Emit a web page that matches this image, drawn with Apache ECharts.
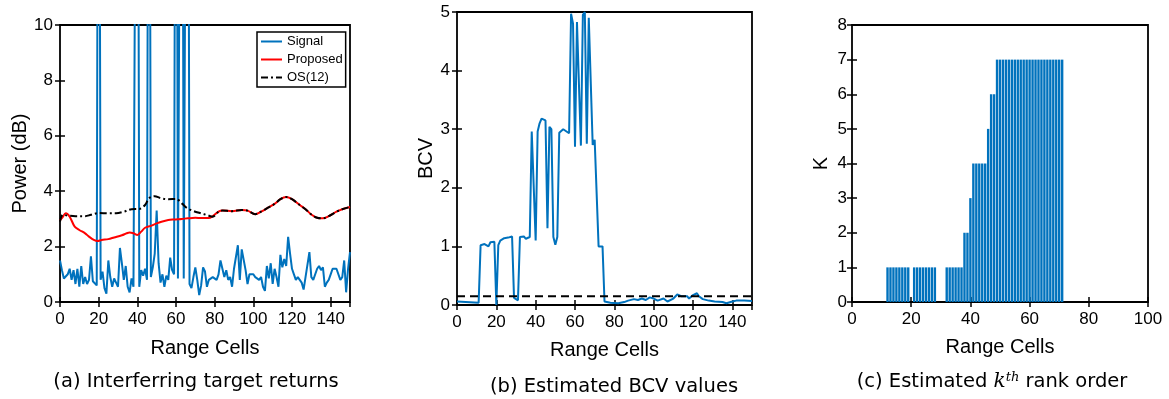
<!DOCTYPE html>
<html>
<head>
<meta charset="utf-8">
<script src="https://cdn.jsdelivr.net/npm/echarts@6/dist/echarts.min.js"></script>
<style>
  html, body {margin: 0; padding: 0; background: #fff;}
  #main {width: 1169px; height: 399px;}
</style>
</head>
<body>
<div id="main"></div>
<script>
// (a) received signal, one sample per range cell 0..150 (target spikes run off the top)
const signal = [
  1.5, 1.15, 0.85, 0.9, 1.0, 1.2, 0.8, 1.15, 0.65, 1.2,
  0.55, 1.3, 0.65, 0.9, 0.65, 0.8, 1.65, 0.75, 0.8, 0.6,
  30, 0.8, 1.1, 0.5, 0.3, 1.5, 0.9, 0.55, 0.85, 0.7,
  0.55, 1.95, 1.4, 0.8, 1.3, 0.55, 0.35, 0.85, 0.55, 0.5,
  30, 0.55, 1.15, 0.95, 1.2, 0.8, 30, 0.9, 1.25, 1.75,
  3.3, 1.4, 0.7, 1.0, 0.55, 0.95, 0.8, 1.6, 1.15, 1.0,
  30, 0.85, 0.8, 30, 0.85, 0.9, 30, 0.65, 0.5, 0.9,
  1.25, 0.8, 0.25, 0.6, 1.25, 1.1, 0.55, 0.8, 0.75, 0.9,
  0.9, 0.8, 1.0, 1.5, 1.5, 0.9, 1.15, 0.8, 0.9, 0.55,
  1.2, 1.15, 2.05, 0.8, 1.9, 1.85, 1.15, 0.65, 1.0, 1.0,
  1.0, 0.9, 0.9, 0.8, 0.9, 0.55, 0.4, 1.3, 0.85, 1.4,
  0.65, 1.2, 0.9, 0.55, 1.7, 1.25, 1.55, 1.3, 2.35, 1.75,
  1.2, 1.0, 0.8, 0.9, 0.8, 0.7, 0.45, 0.9, 0.85, 1.8,
  0.9, 0.8, 0.85, 1.2, 1.3, 1.15, 1.25, 0.55, 0.7, 0.8,
  1.0, 1.2, 1.15, 1.2, 1.2, 0.8, 0.9, 1.5, 0.35, 1.2, 1.8
];

// (a) proposed threshold
const proposedX = [0, 1.2, 3, 5, 7.6, 10, 13, 15, 17.5, 19.5, 21.5, 25, 28, 32, 34.5, 36, 38, 40, 42, 44,
  47, 50, 52.5, 56, 59, 63, 66, 70, 73, 77, 79, 82, 84, 89, 94, 97, 101, 104, 107, 111,
  114, 117, 120, 124, 127, 130, 133, 136, 139, 143, 146, 150];
const proposedY = [2.95, 3.05, 3.2, 3.08, 2.72, 2.6, 2.48, 2.36, 2.24, 2.2, 2.24, 2.27, 2.33, 2.41, 2.48, 2.51, 2.48, 2.42, 2.54, 2.68,
  2.75, 2.84, 2.9, 2.96, 2.98, 3.0, 3.02, 3.04, 3.03, 3.03, 3.1, 3.26, 3.3, 3.28, 3.32, 3.3, 3.17, 3.26, 3.38, 3.54,
  3.71, 3.79, 3.71, 3.5, 3.35, 3.16, 3.04, 3.02, 3.1, 3.26, 3.35, 3.43];

// (a) OS(12) threshold
const osX = [0, 1.5, 4, 8, 13, 16, 20, 25, 29, 33, 37, 41, 44, 46, 49, 52, 56, 60, 63, 66,
  70, 73, 76, 79, 82, 84, 89, 94, 97, 101, 104, 107, 111, 114, 117, 120, 124, 127, 130, 133,
  136, 139, 143, 146, 150];
const osY = [2.9, 3.15, 3.12, 3.1, 3.1, 3.15, 3.21, 3.2, 3.2, 3.26, 3.35, 3.36, 3.5, 3.74, 3.82, 3.75, 3.71, 3.72, 3.56, 3.38,
  3.26, 3.2, 3.14, 3.08, 3.26, 3.3, 3.28, 3.32, 3.3, 3.17, 3.26, 3.38, 3.54, 3.71, 3.79, 3.71, 3.5, 3.35, 3.16, 3.04,
  3.02, 3.1, 3.26, 3.35, 3.43];

// (b) BCV per range cell
const bcvX = [0, 11, 12, 14, 16, 17, 19, 20, 21, 22, 24, 26, 28, 29, 30, 31, 32, 34, 35, 37,
  38, 39, 40, 41, 42, 43, 44, 45, 46, 47, 48, 49, 50, 51, 52, 54, 55, 57, 58, 59,
  60, 61, 62, 63, 64, 65, 66, 67, 68, 69, 70, 71, 72, 74, 75, 78, 82, 85, 87, 90,
  92, 94, 96, 98, 100, 102, 105, 107, 110, 112, 114, 117, 118, 120, 122, 123, 125, 128, 131, 135,
  137, 140, 142, 146, 150];
const bcvY = [0.06, 0.04, 1.02, 1.04, 1.0, 1.07, 1.08, 0.0, 1.02, 1.1, 1.14, 1.15, 1.17, 0.12, 0.1, 0.08, 1.16, 1.17, 1.13, 1.16,
  2.96, 2.94, 1.1, 2.96, 3.1, 3.18, 3.2, 3.15, 1.31, 3.04, 3.0, 1.16, 1.03, 1.16, 2.94, 3.0, 2.97, 2.93, 4.97, 4.8,
  2.7, 4.83, 4.8, 2.72, 4.95, 5.0, 2.75, 4.9, 4.9, 2.73, 2.82, 2.82, 1.0, 1.0, 0.06, 0.04, 0.03, 0.05, 0.075, 0.1,
  0.085, 0.11, 0.085, 0.13, 0.11, 0.075, 0.11, 0.06, 0.11, 0.18, 0.15, 0.15, 0.11, 0.17, 0.2, 0.15, 0.1, 0.075, 0.06, 0.05,
  0.03, 0.06, 0.075, 0.075, 0.07];
const bcvThreshold = 0.15;

// (c) estimated k-th rank per range cell
const kCells = [12, 13, 14, 15, 16, 17, 18, 19, 21, 22, 23, 24, 25, 26, 27, 28,
  32, 33, 34, 35, 36, 37, 38, 39, 40, 41, 42, 43, 44, 45, 46, 47, 48,
  49, 50, 51, 52, 53, 54, 55, 56, 57, 58, 59, 60, 61, 62, 63, 64, 65, 66, 67, 68, 69, 70, 71];
const kValues = [1, 1, 1, 1, 1, 1, 1, 1, 1, 1, 1, 1, 1, 1, 1, 1,
  1, 1, 1, 1, 1, 1, 2, 2, 3, 4, 4, 4, 4, 4, 5, 6, 6,
  7, 7, 7, 7, 7, 7, 7, 7, 7, 7, 7, 7, 7, 7, 7, 7, 7, 7, 7, 7, 7, 7, 7];

const FONT = 'Liberation Sans, Arial, Helvetica, sans-serif';
const CAP_FONT = 'DejaVu Sans, sans-serif';
const BLUE = '#0072BD';

const zip = (xs, ys) => xs.map((x, i) => [x, ys[i]]);

// bottom/left axis carries labels, top/right only mirrors the inside ticks
function xAxes(grid, min, max, step, name, gap) {
  const base = {
    type: 'value', gridIndex: grid, min: min, max: max, interval: step,
    axisLine: {show: false}, splitLine: {show: false},
    axisTick: {inside: true, length: 5, lineStyle: {color: '#000', width: 1.5}}
  };
  return [
    Object.assign({}, base, {
      position: 'bottom', name: name, nameLocation: 'middle', nameGap: gap,
      nameTextStyle: {fontSize: 20, color: '#000', fontFamily: FONT},
      axisLabel: {margin: 9, fontSize: 17, color: '#000', fontFamily: FONT, showMaxLabel: max % step === 0}
    }),
    Object.assign({}, base, {position: 'top', axisLabel: {show: false}})
  ];
}

function yAxes(grid, min, max, step, name, gap, margin) {
  const base = {
    type: 'value', gridIndex: grid, min: min, max: max, interval: step,
    axisLine: {show: false}, splitLine: {show: false},
    axisTick: {inside: true, length: 5, lineStyle: {color: '#000', width: 1.5}}
  };
  return [
    Object.assign({}, base, {
      position: 'left', name: name, nameLocation: 'middle', nameGap: gap, nameRotate: 90,
      nameTextStyle: {fontSize: 20, color: '#000', fontFamily: FONT},
      axisLabel: {margin: margin, fontSize: 17, color: '#000', fontFamily: FONT}
    }),
    Object.assign({}, base, {position: 'right', axisLabel: {show: false}})
  ];
}

const gridBox = {show: true, borderColor: '#000', borderWidth: 1.8, backgroundColor: 'transparent', outerBoundsMode: 'none'};

const chart = echarts.init(document.getElementById('main'), null, {renderer: 'canvas'});
chart.setOption({
  backgroundColor: '#fff',
  animation: false,
  grid: [
    Object.assign({left: 60, top: 25, width: 290, height: 277}, gridBox),
    Object.assign({left: 457, top: 12, width: 295, height: 293}, gridBox),
    Object.assign({left: 852, top: 25, width: 296, height: 277}, gridBox)
  ],
  xAxis: [
    ...xAxes(0, 0, 150, 20, 'Range Cells', 36),
    ...xAxes(1, 0, 150, 20, 'Range Cells', 35),
    ...xAxes(2, 0, 100, 20, 'Range Cells', 35)
  ],
  yAxis: [
    ...yAxes(0, 0, 10, 2, 'Power (dB)', 29, 7),
    ...yAxes(1, 0, 5, 1, 'BCV', 21, 7),
    ...yAxes(2, 0, 8, 1, 'K', 21, 5)
  ],
  legend: {
    left: 257, top: 32, orient: 'vertical',
    data: ['Signal', 'Proposed', 'OS(12)'],
    backgroundColor: '#fff', borderColor: '#000', borderWidth: 1.5,
    padding: [3, 3, 3, 3], itemGap: 5, itemWidth: 21, itemHeight: 13,
    itemStyle: {opacity: 0},
    textStyle: {fontSize: 13, color: '#000', fontFamily: FONT}
  },
  series: [
    {
      name: 'Signal', type: 'line', xAxisIndex: 0, yAxisIndex: 0,
      data: signal.map((v, i) => [i, v]),
      showSymbol: false, symbol: 'none', clip: true,
      lineStyle: {color: BLUE, width: 2}, itemStyle: {color: BLUE}
    },
    {
      name: 'Proposed', type: 'line', xAxisIndex: 0, yAxisIndex: 0,
      data: zip(proposedX, proposedY), smooth: 0.35,
      showSymbol: false, symbol: 'none',
      lineStyle: {color: '#ff0000', width: 2}, itemStyle: {color: '#ff0000'}
    },
    {
      name: 'OS(12)', type: 'line', xAxisIndex: 0, yAxisIndex: 0,
      data: zip(osX, osY), smooth: 0.35,
      showSymbol: false, symbol: 'none',
      lineStyle: {color: '#000', width: 2, type: [7, 3, 2, 3]}, itemStyle: {color: '#000'}
    },
    {
      type: 'line', xAxisIndex: 2, yAxisIndex: 2,
      data: zip(bcvX, bcvY), showSymbol: false, symbol: 'none', clip: true,
      lineStyle: {color: BLUE, width: 2}
    },
    {
      type: 'line', xAxisIndex: 2, yAxisIndex: 2,
      data: [[0, bcvThreshold], [150, bcvThreshold]], showSymbol: false, symbol: 'none',
      lineStyle: {color: '#000', width: 2, type: [8, 5]}
    },
    {
      type: 'bar', xAxisIndex: 4, yAxisIndex: 4,
      data: zip(kCells, kValues), barWidth: 2.4,
      itemStyle: {color: BLUE}
    }
  ],
  graphic: [
    {type: 'text', x: 196, y: 382, style: {text: '(a) Interferring target returns', align: 'center', verticalAlign: 'middle',
      fontSize: 19.5, fontFamily: CAP_FONT, fill: '#000'}},
    {type: 'text', x: 614, y: 387, style: {text: '(b) Estimated BCV values', align: 'center', verticalAlign: 'middle',
      fontSize: 19.5, fontFamily: CAP_FONT, fill: '#000'}},
    {type: 'text', x: 992, y: 382, style: {text: '(c) Estimated {k|k}{th|th} rank order', align: 'center', verticalAlign: 'middle',
      fontSize: 19.5, fontFamily: CAP_FONT, fill: '#000',
      rich: {
        k: {fontSize: 20, fontStyle: 'italic', fontFamily: 'DejaVu Serif, serif'},
        th: {fontSize: 13, fontStyle: 'italic', fontFamily: 'DejaVu Serif, serif', verticalAlign: 'top', padding: [0, 0, 8, 0]}
      }}}
  ]
});
</script>
</body>
</html>
